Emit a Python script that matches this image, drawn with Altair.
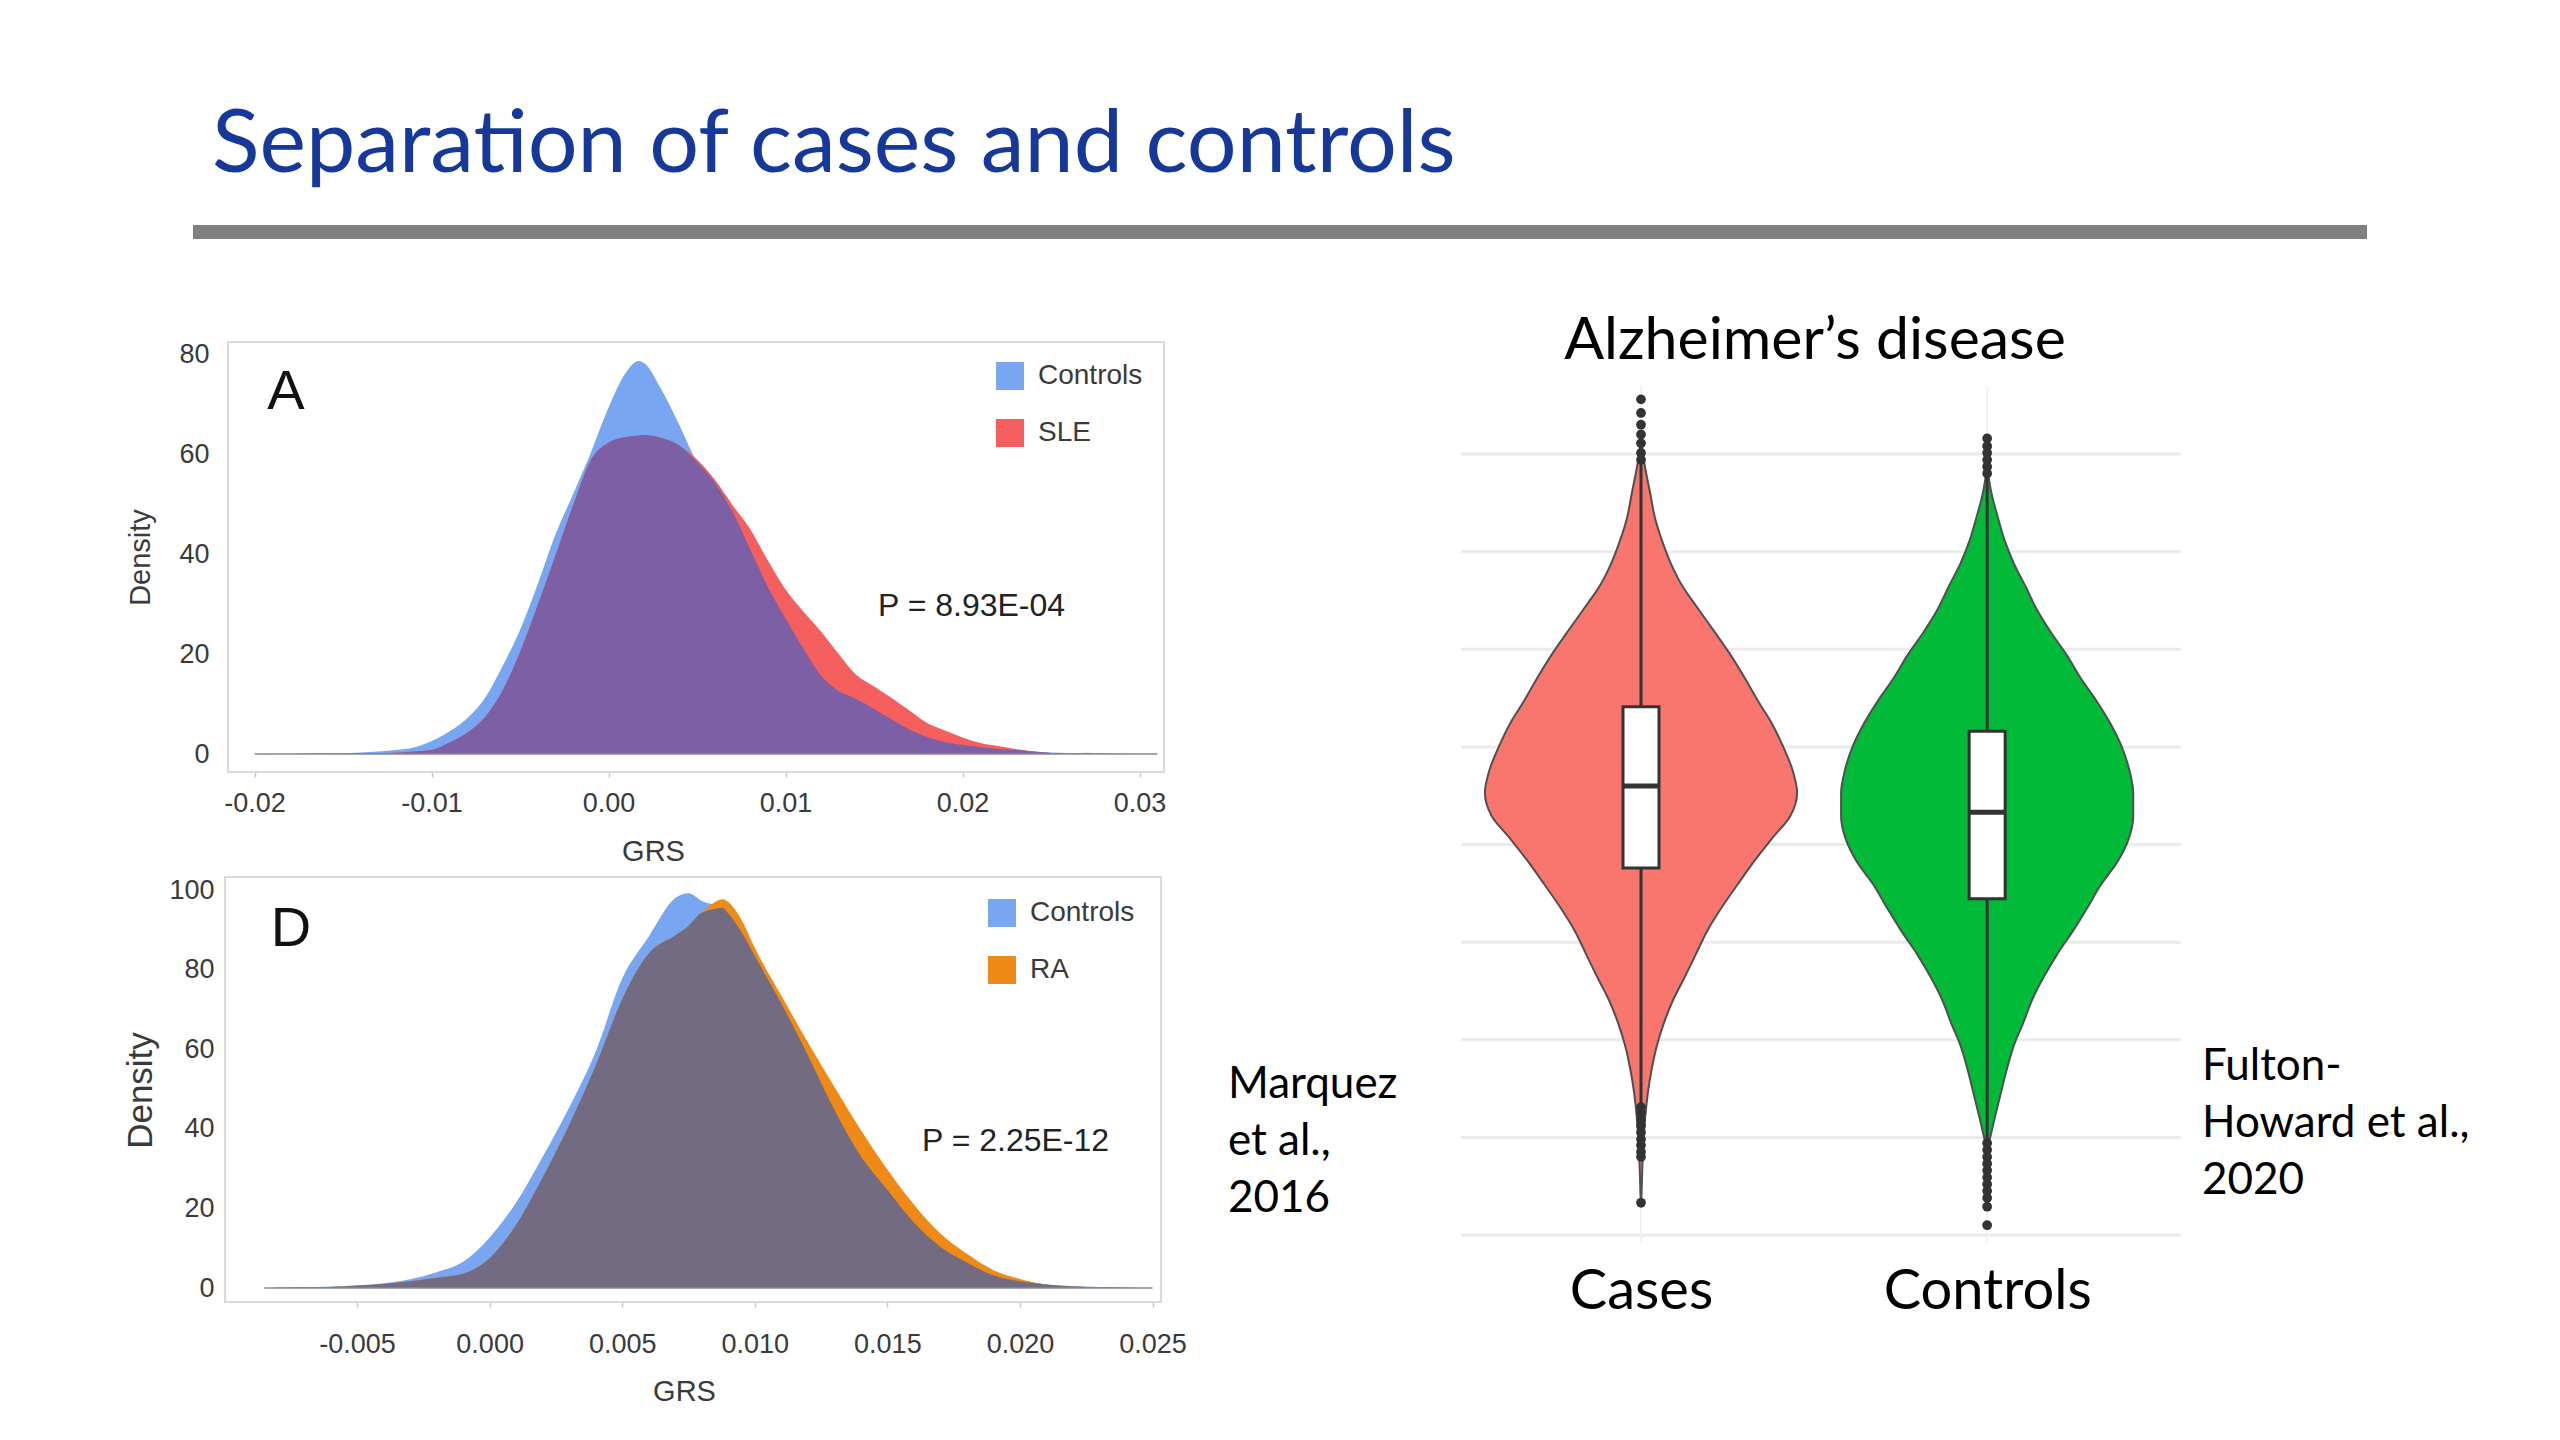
import altair as alt
import numpy as np
import pandas as pd

W, H = 2544, 1424  # whole slide (page minus 8px margins)

# ---------------- Panel A: SLE vs Controls ----------------
a_grs = [-0.020, -0.018, -0.016, -0.014, -0.013, -0.012, -0.011, -0.010, -0.009, -0.008,
         -0.007, -0.006, -0.005, -0.004, -0.003, -0.002, -0.001, 0.000, 0.001, 0.0017,
         0.002, 0.003, 0.004, 0.005, 0.006, 0.007, 0.008, 0.009, 0.010, 0.011,
         0.012, 0.013, 0.014, 0.015, 0.016, 0.017, 0.018, 0.019, 0.020, 0.021,
         0.022, 0.023, 0.024, 0.025, 0.026, 0.027, 0.028, 0.030, 0.031]
a_controls = [0.0, 0.05, 0.1, 0.3, 0.5, 0.8, 1.3, 2.6, 4.5, 7.1,
              11.1, 17.5, 24.8, 34.0, 43.9, 52.0, 60.3, 69.3, 76.4, 78.6,
              78.2, 72.8, 65.8, 58.4, 54.3, 48.5, 41.0, 33.4, 27.1, 21.1,
              15.7, 12.6, 11.0, 9.0, 6.9, 4.9, 3.4, 2.4, 1.8, 1.4,
              1.0, 0.8, 0.5, 0.3, 0.2, 0.25, 0.15, 0.05, 0.0]
a_sle = [0.0, 0.02, 0.05, 0.1, 0.15, 0.25, 0.5, 0.8, 2.3, 4.2,
         7.3, 12.6, 20.4, 29.8, 39.7, 49.8, 58.8, 62.3, 63.4, 63.7,
         63.8, 63.2, 61.7, 58.9, 54.9, 49.8, 45.0, 38.7, 32.9, 28.5,
         24.5, 20.0, 15.8, 13.5, 11.2, 8.7, 6.2, 4.7, 3.3, 2.2,
         1.6, 1.0, 0.5, 0.2, 0.05, 0.02, 0.0, 0.0, 0.0]
a_groups = ["Controls", "SLE"]
a_xticks = [-0.02, -0.01, 0.00, 0.01, 0.02, 0.03]
a_yticks = [0, 20, 40, 60, 80]

# ---------------- Panel D: RA vs Controls ----------------
d_grs = [-0.0085, -0.008, -0.007, -0.006, -0.005, -0.004, -0.003, -0.002, -0.001, 0.000,
         0.001, 0.002, 0.003, 0.004, 0.005, 0.006, 0.007, 0.0075, 0.008, 0.0088,
         0.009, 0.0095, 0.010, 0.011, 0.012, 0.013, 0.014, 0.015, 0.016, 0.017,
         0.018, 0.019, 0.020, 0.021, 0.022, 0.023, 0.024, 0.025]
d_controls = [0.0, 0.1, 0.2, 0.4, 0.7, 1.2, 2.2, 4.0, 6.6, 12.7,
              21.5, 33.0, 45.4, 59.4, 77.8, 88.3, 98.0, 99.2, 97.3, 95.5,
              94.1, 89.5, 83.5, 71.5, 58.6, 44.8, 33.1, 24.7, 16.5, 10.4,
              6.4, 3.2, 1.7, 0.9, 0.5, 0.25, 0.1, 0.0]
d_ra = [0.0, 0.1, 0.2, 0.3, 0.6, 1.0, 1.7, 2.6, 3.6, 7.5,
        15.9, 27.8, 41.0, 55.9, 72.6, 84.1, 88.6, 91.0, 94.3, 97.7,
        97.0, 92.5, 85.5, 73.5, 61.8, 50.6, 39.7, 29.8, 21.0, 13.7,
        8.6, 4.5, 2.3, 0.9, 0.4, 0.2, 0.1, 0.0]
d_groups = ["Controls", "RA"]
d_xticks = [-0.005, 0.000, 0.005, 0.010, 0.015, 0.020, 0.025]
d_yticks = [0, 20, 40, 60, 80, 100]

# ---------------- Alzheimer's violins (GRS in grid units) ----------------
violin_groups = ["Cases", "Controls"]
cases_value = [4.10, 3.90, 3.59, 3.35, 3.12, 2.88, 2.65, 2.41, 2.18, 1.94, 1.71, 1.47, 1.24, 1.00,
               0.76, 0.53, 0.29, 0.06, -0.18, -0.41, -0.65, -0.88, -1.12, -1.36, -1.59, -1.83,
               -2.06, -2.30, -2.54, -2.80, -3.00, -3.20, -3.40, -3.66]
cases_halfwidth = [0.002, 0.010, 0.027, 0.040, 0.060, 0.086, 0.119, 0.166, 0.212, 0.259, 0.299, 0.338,
                   0.378, 0.411, 0.438, 0.451, 0.431, 0.378, 0.325, 0.279, 0.232, 0.192, 0.159, 0.126,
                   0.093, 0.066, 0.046, 0.031, 0.020, 0.012, 0.008, 0.005, 0.003, 0.001]
controls_value = [3.80, 3.59, 3.35, 3.12, 2.88, 2.65, 2.41, 2.18, 1.94, 1.71, 1.47, 1.24, 1.00, 0.76,
                  0.53, 0.29, 0.06, -0.18, -0.41, -0.65, -0.88, -1.12, -1.36, -1.59, -1.83, -2.06,
                  -2.30, -2.54, -2.80, -3.06]
controls_halfwidth = [0.003, 0.013, 0.031, 0.050, 0.077, 0.110, 0.143, 0.183, 0.230, 0.269, 0.316,
                      0.356, 0.389, 0.411, 0.422, 0.422, 0.409, 0.376, 0.329, 0.289, 0.249, 0.203,
                      0.163, 0.130, 0.104, 0.077, 0.057, 0.040, 0.022, 0.005]
box_q1 = [-0.24, -0.555]
box_median = [0.60, 0.33]
box_q3 = [1.41, 1.16]
whisker_low = [-2.69, -3.06]
whisker_high = [3.90, 3.80]
cases_outliers = [4.56, 4.42, 4.30, 4.20, 4.11, 4.01, 3.94, -2.69, -2.75, -2.82, -2.88, -2.95,
                  -3.02, -3.08, -3.15, -3.20, -3.67]
controls_outliers = [4.16, 4.08, 4.01, 3.94, 3.87, 3.80, -3.06, -3.13, -3.20, -3.27, -3.34, -3.41,
                     -3.48, -3.55, -3.62, -3.71, -3.90]
violin_grid = [-4, -3, -2, -1, 0, 1, 2, 3, 4]

# ---------------- texts ----------------
slide_title = "Separation of cases and controls"
violin_title = "Alzheimer\u2019s disease"
cite_left = "Marquez\net al.,\n2016"
cite_right = "Fulton-\nHoward et al.,\n2020"
p_a = "P = 8.93E-04"
p_d = "P = 2.25E-12"

# ---------------- styling ----------------
ARIAL = "Liberation Sans"
CAL = "Lato"
BLUE = "#79A6F0"
RED = "#F5605E"
PURPLE = "#7D5FA6"
ORANGE = "#EF8A17"
GREYPURPLE = "#736B82"
FRAME = "#DADADA"
TICKTXT = "#3A3A3A"


def neg_label(fmt):
    return ("datum.value < 0 ? '-' + format(-datum.value, '%s') : format(datum.value, '%s')"
            % (fmt, fmt))


def note(text, x, y, size, font, color="black", align="left", baseline="middle", line_height=None):
    mk = dict(align=align, baseline=baseline, fontSize=size, font=font, color=color)
    if line_height:
        mk.update(lineBreak="\n", lineHeight=line_height)
    return alt.Chart(pd.DataFrame({"t": [text]})).mark_text(**mk).encode(
        text="t:N", x=alt.value(x), y=alt.value(y))


def density_panel(grs, ctrl, case, groups, colors, overlap_color, xdom, xrange, ydom, yrange,
                  xticks, yticks, xfmt, x_off, y_off, x_lab_pad, y_lab_pad, xtitle_pos,
                  ytitle_pos, ytitle_size, legend_xy):
    n = len(grs)
    long = pd.DataFrame({"GRS": grs + grs, "Density": ctrl + case,
                         "Group": [groups[0]] * n + [groups[1]] * n})
    over = pd.DataFrame({"GRS": grs, "Density": np.minimum(ctrl, case)})
    frame = pd.DataFrame({"GRS": [xdom[0]], "GRS2": [xdom[1]],
                          "Density": [ydom[0]], "Density2": [ydom[1]]})
    base = pd.DataFrame({"GRS": [grs[0]], "GRS2": [grs[-1]], "Density": [0]})

    xscale = alt.Scale(domain=xdom, range=xrange, nice=False, zero=False)
    yscale = alt.Scale(domain=ydom, range=yrange, nice=False, zero=False)
    xaxis = alt.Axis(orient="bottom", values=xticks, labelExpr=neg_label(xfmt), domain=False,
                     grid=False, ticks=True, tickSize=5, tickColor="#C8C8C8", tickWidth=1.5,
                     labelFont=ARIAL, labelFontSize=27, labelColor=TICKTXT,
                     labelPadding=x_lab_pad, labelBaseline="middle", offset=x_off,
                     title="GRS", titleFont=ARIAL, titleFontSize=29, titleFontWeight="normal",
                     titleColor=TICKTXT, titleX=xtitle_pos[0], titleY=xtitle_pos[1],
                     titleAlign="center", titleBaseline="middle")
    yaxis = alt.Axis(orient="left", values=yticks, domain=False, grid=False, ticks=False,
                     labelFont=ARIAL, labelFontSize=27, labelColor=TICKTXT,
                     labelPadding=y_lab_pad, offset=y_off, title="Density", titleFont=ARIAL,
                     titleFontSize=ytitle_size, titleFontWeight="normal", titleColor=TICKTXT,
                     titleAngle=270, titleX=ytitle_pos[0], titleY=ytitle_pos[1],
                     titleAlign="center", titleBaseline="middle")

    def X(field):
        return alt.X(field, type="quantitative", scale=xscale, axis=xaxis, title="GRS")

    def Y(field):
        return alt.Y(field, type="quantitative", scale=yscale, axis=yaxis, title="Density",
                     stack=None)

    frame_l = alt.Chart(frame).mark_rect(fill="white", stroke=FRAME, strokeWidth=2).encode(
        x=X("GRS"), x2="GRS2", y=Y("Density"), y2="Density2")
    areas = alt.Chart(long).mark_area(interpolate="monotone", opacity=1).encode(
        x=X("GRS"), y=Y("Density"),
        color=alt.Color("Group:N", scale=alt.Scale(domain=groups, range=colors),
                        legend=alt.Legend(orient="none", legendX=legend_xy[0],
                                          legendY=legend_xy[1], title=None, padding=0,
                                          symbolType="square", symbolSize=784,
                                          symbolStrokeWidth=0, symbolOpacity=1,
                                          labelFont=ARIAL, labelFontSize=28,
                                          labelColor=TICKTXT, labelOffset=14, rowPadding=29)))
    overlap = alt.Chart(over).mark_area(interpolate="monotone", color=overlap_color,
                                        opacity=1).encode(x=X("GRS"), y=Y("Density"))
    baseline = alt.Chart(base).mark_rule(color="#8a8a8a", strokeWidth=1.5).encode(
        x=X("GRS"), x2="GRS2", y=Y("Density"))
    return alt.layer(frame_l, areas, overlap, baseline)


panel_a = density_panel(a_grs, a_controls, a_sle, a_groups, [BLUE, RED], PURPLE,
                        [-0.0215, 0.03138], [220, 1156], [-3.6, 82.4], [764, 334],
                        a_xticks, a_yticks, ".2f", -660, -220, 26, 19, (645, 79), (-88, 549),
                        29, (988, 354))
panel_d = density_panel(d_grs, d_controls, d_ra, d_groups, [BLUE, ORANGE], GREYPURPLE,
                        [-0.00998, 0.02532], [217, 1153], [-3.5, 103.3], [1294, 869],
                        d_xticks, d_yticks, ".3f", -130, -217, 37, 11, (676, 89), (-85, 1082),
                        35, (980, 891))

# ---------------- violin panel ----------------
vx = alt.Scale(domain=[0.48, 2.56], range=[1453, 2173], nice=False, zero=False)
vy = alt.Scale(domain=[-4, 4], range=[1227, 446], nice=False, zero=False)
vxaxis = alt.Axis(orient="bottom", values=[1, 2],
                  labelExpr="datum.value == 1 ? 'Cases' : 'Controls'",
                  domain=False, ticks=False, grid=False, labelFont=CAL, labelFontSize=56,
                  labelColor="black", labelPadding=0, labelBaseline="middle", labelLimit=0,
                  offset=-141, title=None)

vdf = pd.concat([
    pd.DataFrame({"group": "Cases", "center": 1.0, "value": cases_value, "hw": cases_halfwidth}),
    pd.DataFrame({"group": "Controls", "center": 2.0, "value": controls_value,
                  "hw": controls_halfwidth}),
], ignore_index=True).sort_values(["group", "value"]).reset_index(drop=True)
box = pd.DataFrame({"group": violin_groups, "center": [1.0, 2.0], "q1": box_q1,
                    "med": box_median, "q3": box_q3, "lo": whisker_low, "hi": whisker_high})
outl = pd.concat([
    pd.DataFrame({"center": 1.0, "value": cases_outliers}),
    pd.DataFrame({"center": 2.0, "value": controls_outliers}),
], ignore_index=True)
hgrid = pd.DataFrame({"value": violin_grid, "x0": 0.48, "x1": 2.56})
vgrid = pd.DataFrame({"center": [1.0, 2.0], "y0": -4.08, "y1": 4.7})


def VX(field):
    return alt.X(field, type="quantitative", scale=vx, axis=vxaxis, stack=None)


def VY(field):
    return alt.Y(field, type="quantitative", scale=vy, axis=None, stack=None)


hgrid_l = alt.Chart(hgrid).mark_rule(color="#EBEBEB", strokeWidth=3).encode(
    x=VX("x0"), x2="x1", y=VY("value"))
vgrid_l = alt.Chart(vgrid).mark_rule(color="#F1F1F1", strokeWidth=2).encode(
    x=VX("center"), y=VY("y0"), y2="y1")
violins = alt.Chart(vdf).transform_calculate(
    lo="datum.center - datum.hw", hi="datum.center + datum.hw"
).mark_area(orient="horizontal", interpolate="monotone", stroke="#505050",
            strokeWidth=2, opacity=1).encode(
    y=VY("value"), x=VX("lo:Q"), x2="hi:Q",
    color=alt.Color("group:N", scale=alt.Scale(domain=violin_groups,
                                               range=["#F8766D", "#00BA38"]), legend=None))
whisk = alt.Chart(box).mark_rule(color="#333333", strokeWidth=3).encode(
    x=VX("center"), y=VY("lo"), y2="hi")
boxes = alt.Chart(box).transform_calculate(
    bl="datum.center - 0.052", br="datum.center + 0.052"
).mark_rect(fill="white", stroke="#333333", strokeWidth=3).encode(
    x=VX("bl:Q"), x2="br:Q", y=VY("q1"), y2="q3")
medians = alt.Chart(box).transform_calculate(
    bl="datum.center - 0.052", br="datum.center + 0.052"
).mark_rule(color="#333333", strokeWidth=5).encode(x=VX("bl:Q"), x2="br:Q", y=VY("med"))
dots = alt.Chart(outl).mark_circle(color="#333333", opacity=1, size=95).encode(
    x=VX("center"), y=VY("value"))
violin_panel = alt.layer(hgrid_l, vgrid_l, violins, whisk, boxes, medians, dots)

# ---------------- slide decorations & annotations ----------------
bar = alt.Chart(pd.DataFrame({"a": [0]})).mark_rule(color="#808080", strokeWidth=14).encode(
    x=alt.value(185), x2=alt.value(2359), y=alt.value(224))
texts = [
    note(slide_title, 204, 164, 88, CAL, color="#16389B", baseline="alphabetic"),
    note("A", 278, 384, 56, ARIAL, color="#111111", align="center"),
    note("D", 283, 921, 56, ARIAL, color="#111111", align="center"),
    note(p_a, 870, 598, 32, ARIAL, color="#222222"),
    note(p_d, 914, 1133, 32, ARIAL, color="#222222"),
    note(violin_title, 1807, 333, 59, CAL, align="center"),
    note(cite_left, 1220, 1077, 44, CAL, line_height=57),
    note(cite_right, 2194, 1059, 44, CAL, line_height=57),
]

chart = alt.layer(bar, panel_a, panel_d, violin_panel, *texts).resolve_scale(
    x="independent", y="independent", color="independent"
).properties(
    width=W, height=H, autosize=alt.AutoSizeParams(type="none"), padding=0,
    background="white"
).configure_view(strokeWidth=0)

chart.save("out.html", embed_options={"renderer": "svg", "actions": False})
